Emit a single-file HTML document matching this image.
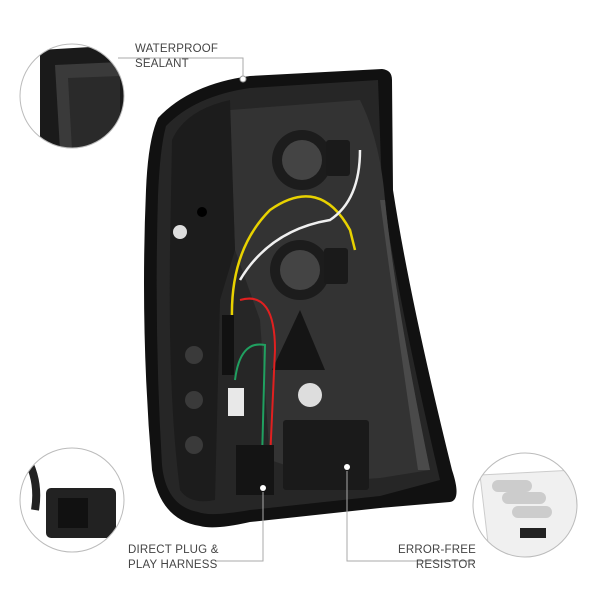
<!DOCTYPE html>
<html><head><style>
body{margin:0;background:#fff;}
svg{display:block}
text{font-family:"Liberation Sans",sans-serif;font-size:11.5px;fill:#444;letter-spacing:0.2px}
</style></head><body>
<svg width="600" height="600" viewBox="0 0 600 600" xmlns="http://www.w3.org/2000/svg">
<path d="M158,118 Q190,84 250,76 L382,69 Q392,70 392,80 L393,190 Q410,300 452,470 Q462,500 450,502 L380,508 L250,522 Q215,530 200,526 Q160,520 152,470 Q140,330 146,190 Q148,140 158,118 Z" fill="#111"/>
<path d="M166,126 Q195,96 250,88 L378,80 L382,190 Q398,300 440,480 L380,496 L250,510 Q210,517 198,512 Q166,506 162,465 Q154,330 158,195 Q160,148 166,126 Z" fill="#262626"/>
<path d="M230,110 L360,100 Q380,140 385,200 Q395,300 430,470 L380,478 L350,480 L300,470 L270,460 L260,320 L235,250 Z" fill="#333"/>
<path d="M385,200 Q395,300 430,470 L418,470 Q396,320 380,200 Z" fill="#4a4a4a"/>
<path d="M172,140 Q185,110 230,100 L235,250 L220,300 L215,500 Q190,505 180,490 Q168,400 170,250 Z" fill="#1c1c1c"/>
<circle cx="302" cy="160" r="30" fill="#1c1c1c"/><circle cx="302" cy="160" r="20" fill="#444"/>
<rect x="326" y="140" width="24" height="36" rx="3" fill="#1a1a1a"/>
<circle cx="300" cy="270" r="30" fill="#1c1c1c"/><circle cx="300" cy="270" r="20" fill="#444"/>
<rect x="324" y="248" width="24" height="36" rx="3" fill="#1a1a1a"/>
<path d="M300,310 L325,370 L272,370 Z" fill="#151515"/>
<circle cx="310" cy="395" r="12" fill="#ddd"/>
<circle cx="202" cy="212" r="5" fill="#000"/><circle cx="180" cy="232" r="7" fill="#ddd"/>
<circle cx="194" cy="355" r="9" fill="#3a3a3a"/><circle cx="194" cy="400" r="9" fill="#3a3a3a"/><circle cx="194" cy="445" r="9" fill="#3a3a3a"/>
<path d="M232,320 Q230,250 270,210 Q320,175 350,230 L355,250" stroke="#e8d200" stroke-width="2.5" fill="none"/>
<path d="M240,280 Q270,230 330,220 Q360,200 360,150" stroke="#f0f0f0" stroke-width="2.5" fill="none"/>
<path d="M240,300 Q275,290 275,350 L270,460" stroke="#e02020" stroke-width="2" fill="none"/>
<path d="M235,380 Q240,340 265,345 L262,460" stroke="#20a060" stroke-width="2" fill="none"/>
<rect x="222" y="315" width="12" height="60" fill="#111"/>
<rect x="228" y="388" width="16" height="28" fill="#e8e8e8"/>
<rect x="283" y="420" width="86" height="70" rx="3" fill="#1a1a1a"/>
<rect x="236" y="445" width="38" height="50" fill="#141414"/>
<circle cx="347" cy="467" r="3" fill="#fff"/><circle cx="263" cy="488" r="3" fill="#fff"/>
<circle cx="243" cy="79" r="3" fill="#fff" stroke="#999"/>
<g stroke="#aaa" stroke-width="1" fill="none">
<polyline points="118,58 243,58 243,76"/>
<polyline points="215,561 263,561 263,492"/>
<polyline points="347,471 347,561 475,561"/>
</g>
<text x="135" y="52">WATERPROOF</text><text x="135" y="67">SEALANT</text>
<text x="128" y="553">DIRECT PLUG &amp;</text><text x="128" y="568">PLAY HARNESS</text>
<text x="476" y="553" text-anchor="end">ERROR-FREE</text><text x="476" y="568" text-anchor="end">RESISTOR</text>
<defs>
<clipPath id="c1"><circle cx="72" cy="96" r="52"/></clipPath>
<clipPath id="c2"><circle cx="72" cy="500" r="52"/></clipPath>
<clipPath id="c3"><circle cx="525" cy="505" r="52"/></clipPath>
</defs>
<g clip-path="url(#c1)"><rect x="20" y="40" width="110" height="110" fill="#fff"/>
<path d="M40,50 L125,45 L130,150 L40,150 Z" fill="#1a1a1a"/><path d="M55,65 L120,62 L120,150 L60,150 Z" fill="#3a3a3a"/><path d="M68,78 L120,76 L120,150 L72,150 Z" fill="#2a2a2a"/></g>
<circle cx="72" cy="96" r="52" fill="none" stroke="#bbb"/>
<g clip-path="url(#c2)"><rect x="20" y="448" width="110" height="110" fill="#fff"/>
<path d="M25,455 Q40,480 35,510" stroke="#222" stroke-width="8" fill="none"/>
<rect x="46" y="488" width="70" height="50" rx="5" fill="#222"/><rect x="58" y="498" width="30" height="30" fill="#111"/></g>
<circle cx="72" cy="500" r="52" fill="none" stroke="#bbb"/>
<g clip-path="url(#c3)"><rect x="470" y="450" width="110" height="110" fill="#fff"/>
<path d="M480,475 L575,470 L580,560 L490,560 Z" fill="#f0f0f0" stroke="#ccc"/>
<rect x="492" y="480" width="40" height="12" rx="6" fill="#ccc"/><rect x="502" y="492" width="44" height="12" rx="6" fill="#ccc"/><rect x="512" y="506" width="40" height="12" rx="6" fill="#ccc"/>
<rect x="520" y="528" width="26" height="10" fill="#222"/></g>
<circle cx="525" cy="505" r="52" fill="none" stroke="#bbb"/>
</svg>
</body></html>
